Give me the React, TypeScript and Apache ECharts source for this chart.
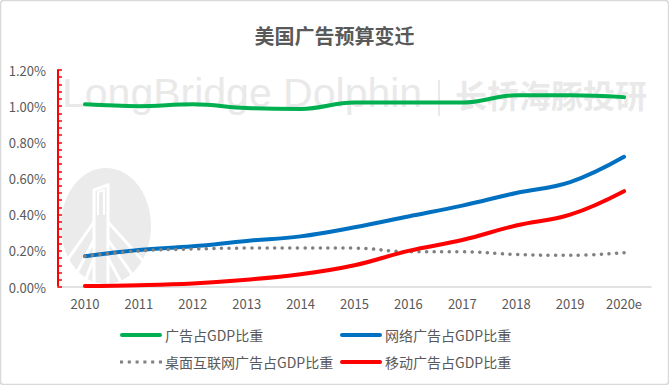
import React, { useEffect, useRef } from "react";
import * as echarts from "echarts";

const years = ["2010", "2011", "2012", "2013", "2014", "2015", "2016", "2017", "2018", "2019", "2020e"];
const adShare = [1.01, 1.0, 1.01, 0.99, 0.985, 1.02, 1.02, 1.02, 1.06, 1.06, 1.05];
const onlineShare = [0.17, 0.205, 0.225, 0.255, 0.28, 0.33, 0.39, 0.45, 0.52, 0.58, 0.72];
const desktopShare = [0.17, 0.2, 0.21, 0.215, 0.215, 0.215, 0.195, 0.195, 0.18, 0.175, 0.19];
const mobileShare = [0.005, 0.01, 0.02, 0.04, 0.07, 0.12, 0.2, 0.26, 0.34, 0.4, 0.53];
const seriesNames = ["广告占GDP比重", "网络广告占GDP比重", "桌面互联网广告占GDP比重", "移动广告占GDP比重"];
const yTicks = { min: 0, max: 1.2, interval: 0.2 };

const FONT = "'Noto Sans CJK SC', 'Noto Sans', sans-serif";
const TXT = "#595959";
const SOLID_ICON = "path://M2,0H40A2,2 0 0 1 40,4H2A2,2 0 0 1 2,0Z";
const DOT_ICON =
  "path://M0,0h3v3h-3z M7.6,0h3v3h-3z M15.2,0h3v3h-3z M22.8,0h3v3h-3z M30.4,0h3v3h-3z M38,0h3v3h-3z";

export default function App() {
  const ref = useRef<HTMLDivElement>(null);
  useEffect(() => {
    if (!ref.current) return;
    const chart = echarts.init(ref.current, undefined, { renderer: "svg" });
    const white = { stroke: "#ffffff", lineWidth: 3, fill: null };
    const legendBase = {
      orient: "vertical", top: 328, padding: 0, itemGap: 13, itemWidth: 42, itemHeight: 4,
      textStyle: { fontFamily: FONT, fontSize: 14, color: TXT, padding: [0, 0, 0, -2] },
    };
    chart.setOption({
      animation: false,
      backgroundColor: "#ffffff",
      textStyle: { fontFamily: FONT },
      title: {
        text: "美国广告预算变迁",
        left: "center",
        top: 20,
        textStyle: { fontFamily: FONT, fontSize: 20, fontWeight: "bold", color: TXT },
      },
      graphic: [
        { type: "rect", z: -10, silent: true, shape: { x: 0.5, y: 0.5, width: 668, height: 384, r: 3 }, style: { fill: "#fff", stroke: "#d9d9d9", lineWidth: 1.5 } },
        { type: "ellipse", z: -5, silent: true, shape: { cx: 106, cy: 226, rx: 45, ry: 58 }, style: { fill: "#ebebeb" } },
        { type: "polyline", z: -4, silent: true, shape: { points: [[94, 284], [94, 190], [108, 185], [108, 284]] }, style: white },
        { type: "polyline", z: -4, silent: true, shape: { points: [[98, 215], [98, 192], [104, 190], [104, 215]] }, style: { ...white, lineWidth: 2 } },
        { type: "line", z: -4, silent: true, shape: { x1: 94, y1: 222, x2: 66, y2: 262 }, style: white },
        { type: "line", z: -4, silent: true, shape: { x1: 94, y1: 240, x2: 73, y2: 280 }, style: white },
        { type: "line", z: -4, silent: true, shape: { x1: 108, y1: 222, x2: 144, y2: 262 }, style: white },
        { type: "line", z: -4, silent: true, shape: { x1: 108, y1: 240, x2: 136, y2: 280 }, style: white },
        { type: "line", z: -4, silent: true, shape: { x1: 94, y1: 258, x2: 84, y2: 284 }, style: white },
        { type: "line", z: -4, silent: true, shape: { x1: 108, y1: 258, x2: 122, y2: 284 }, style: white },
        { type: "text", z: -4, silent: true, left: 62, top: 72, style: { text: "LongBridge Dolphin", fill: "#e9e9e9", font: "41px 'Liberation Sans', Arial, sans-serif" } },
        { type: "rect", z: -4, silent: true, shape: { x: 438, y: 80, width: 2, height: 36 }, style: { fill: "#e9e9e9" } },
        { type: "text", z: -4, silent: true, left: 455, top: 78, style: { text: "长桥海豚投研", fill: "#e9e9e9", font: "bold 32px 'Noto Sans CJK SC', sans-serif" } },
      ],
      legend: [
        {
          ...legendBase, left: 120,
          data: [{ name: seriesNames[0], icon: SOLID_ICON }, { name: seriesNames[2], icon: DOT_ICON }],
        },
        {
          ...legendBase, left: 340,
          data: [{ name: seriesNames[1], icon: SOLID_ICON }, { name: seriesNames[3], icon: SOLID_ICON }],
        },
      ],
      grid: { left: 58, right: 18, top: 70, bottom: 98 },
      xAxis: {
        type: "category",
        data: years,
        boundaryGap: true,
        axisLine: { lineStyle: { color: "#d9d9d9", width: 1.5 } },
        axisTick: { show: false },
        axisLabel: { color: TXT, fontSize: 13, margin: 10, fontFamily: FONT },
      },
      yAxis: {
        type: "value",
        min: yTicks.min,
        max: yTicks.max,
        interval: yTicks.interval,
        axisLine: { show: true, lineStyle: { color: "#ff0000", width: 2 } },
        axisTick: { show: true, inside: true, length: 4, lineStyle: { color: "#ff0000", width: 1.5 } },
        minorTick: { show: true, splitNumber: 5, length: 4, lineStyle: { color: "#ff0000", width: 1.5 } },
        splitLine: { show: false },
        axisLabel: { color: TXT, fontSize: 13, margin: 12, fontFamily: FONT, formatter: (v: number) => v.toFixed(2) + "%" },
      },
      series: [
        { name: seriesNames[0], type: "line", data: adShare, smooth: 0.4, symbol: "none", lineStyle: { color: "#00b050", width: 4, cap: "round" }, itemStyle: { color: "#00b050" } },
        { name: seriesNames[1], type: "line", data: onlineShare, smooth: 0.4, symbol: "none", lineStyle: { color: "#0070c0", width: 4, cap: "round" }, itemStyle: { color: "#0070c0" } },
        { name: seriesNames[2], type: "line", data: desktopShare, smooth: 0.4, symbol: "none", z: 3, lineStyle: { color: "#808080", width: 3.5, type: [0.1, 7.5], cap: "round" }, itemStyle: { color: "#808080" } },
        { name: seriesNames[3], type: "line", data: mobileShare, smooth: 0.4, symbol: "none", lineStyle: { color: "#ff0000", width: 4, cap: "round" }, itemStyle: { color: "#ff0000" } },
      ],
    });
    return () => chart.dispose();
  }, []);
  return <div ref={ref} style={{ position: "absolute", left: 0, top: 0, width: 669, height: 385 }} />;
}
